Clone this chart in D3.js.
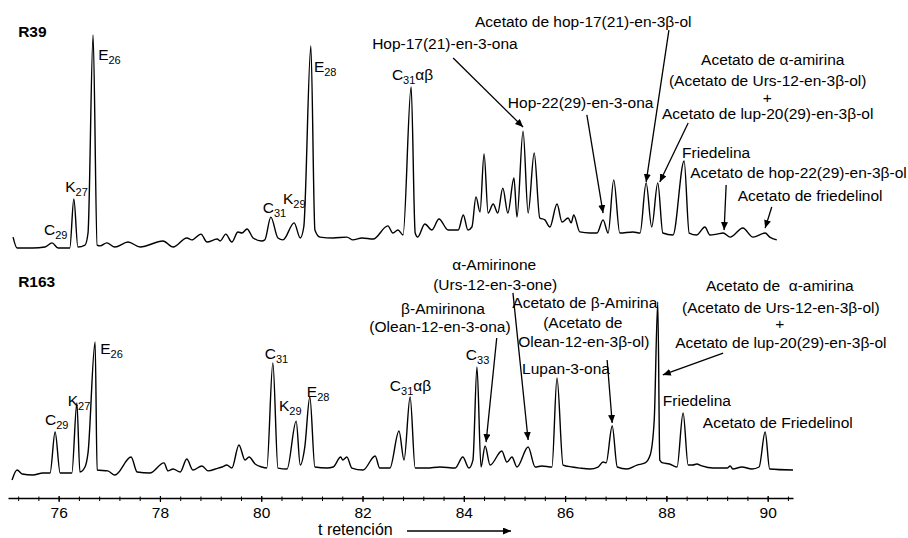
<!DOCTYPE html>
<html>
<head>
<meta charset="utf-8">
<script src="https://cdn.jsdelivr.net/npm/d3@7"></script>
<style>
  body { margin: 0; background: #fff; }
  svg text { font-family: "Liberation Sans", Arial, sans-serif; fill: #000; }
</style>
</head>
<body>
<svg id="chrom"></svg>
<script>
// retention time (min) and relative signal (% of largest peak)
var r39Time = [75.10,75.18,75.49,75.73,75.87,75.99,76.22,76.30,76.38,76.52,76.58,76.68,76.76,76.82,76.95,77.11,77.37,77.61,78.06,78.26,
  78.53,78.63,78.81,78.93,79.13,79.19,79.30,79.42,79.54,79.62,79.72,79.84,80.01,80.07,80.19,80.33,80.43,80.65,80.77,80.84,
  80.98,81.06,81.16,81.42,81.69,81.81,81.99,82.21,82.50,82.60,82.70,82.80,82.96,83.04,83.09,83.23,83.37,83.51,83.69,83.89,
  83.99,84.08,84.16,84.24,84.32,84.40,84.48,84.58,84.67,84.77,84.87,84.99,85.05,85.17,85.27,85.39,85.50,85.60,85.70,85.84,
  85.94,86.06,86.12,86.17,86.29,86.49,86.63,86.75,86.85,86.96,87.08,87.34,87.48,87.60,87.71,87.83,87.93,88.13,88.35,88.45,
  88.60,88.76,88.86,89.00,89.12,89.26,89.51,89.71,89.95,90.04,90.18];
var r39Signal = [6.0,0.9,0.9,1.4,3.3,0.9,0.9,23.7,1.4,2.3,7.9,100,2.3,1.9,3.3,1.4,3.7,1.4,4.2,1.4,
  5.6,4.7,7.4,3.7,5.1,4.2,7.4,3.7,8.4,7.9,9.8,5.6,4.2,4.7,15.3,5.6,4.7,12.6,5.6,10.7,
  94.9,9.3,6.0,5.6,6.0,4.7,5.6,5.1,11.2,7.9,9.3,7.0,75.8,7.9,6.0,12.1,9.3,14.4,9.3,9.3,
  16.3,9.3,10.7,24.7,17.7,44.7,17.2,21.4,17.2,28.8,17.2,33.5,15.3,55.3,17.2,45.1,14.9,14.0,10.7,21.4,
  13.0,14.9,12.6,16.3,8.4,7.9,7.9,14.0,7.9,32.6,7.9,8.4,7.9,31.2,10.7,31.2,7.9,7.0,41.4,7.9,
  7.0,10.7,7.0,7.4,7.9,6.0,10.2,6.0,7.9,6.0,4.7];

var r163Time = [75.08,75.18,75.28,75.49,75.69,75.83,75.93,76.03,76.26,76.36,76.42,76.52,76.58,76.72,76.76,76.97,77.11,77.43,77.55,77.80,
  78.08,78.16,78.26,78.40,78.53,78.65,78.83,78.95,79.15,79.23,79.32,79.42,79.56,79.68,79.76,79.88,80.01,80.11,80.23,80.33,
  80.51,80.69,80.77,80.86,80.96,81.06,81.30,81.42,81.57,81.61,81.69,81.79,82.01,82.25,82.34,82.54,82.72,82.82,82.94,83.04,
  83.27,83.53,83.83,83.98,84.10,84.18,84.26,84.34,84.42,84.52,84.75,84.85,84.95,85.05,85.27,85.41,85.54,85.74,85.84,85.96,
  86.14,86.29,86.49,86.65,86.75,86.81,86.93,87.03,87.22,87.42,87.58,87.68,87.76,87.83,87.87,87.93,88.06,88.21,88.33,88.43,
  88.52,88.60,88.70,88.92,89.20,89.26,89.31,89.49,89.69,89.83,89.95,90.04,90.50];
var r163Signal = [0,5.6,3.4,2.8,3.9,3.9,27.0,3.9,3.9,43.3,4.5,7.3,15.2,77.5,5.6,5.1,2.8,12.9,4.5,3.9,
  9.6,5.1,6.2,4.5,11.8,5.6,7.9,5.1,6.7,7.3,8.4,6.7,19.7,11.2,12.9,9.0,7.3,6.7,65.7,6.7,
  6.2,33.1,8.4,18.5,46.6,7.3,6.7,7.3,12.9,11.2,12.9,6.7,5.6,13.5,6.7,6.7,27.5,11.2,46.6,6.7,
  6.7,7.3,6.7,12.9,6.7,11.2,63.5,7.3,19.1,8.4,16.3,10.1,12.9,7.3,18.5,7.3,7.9,7.3,57.3,8.4,
  7.3,6.7,6.2,7.3,10.1,9.6,30.3,7.3,6.2,8.4,9.6,14.0,33.7,100,11.2,9.6,9.0,7.3,37.6,8.4,
  8.4,9.0,7.9,6.7,6.7,7.9,6.2,7.3,6.2,7.3,27.0,6.2,5.6];

var xTicks = [76, 78, 80, 82, 84, 86, 88, 90];
var xMinorTicks = d3.range(75.2, 90.5, 0.4);

// peak labels: anchor in (time, signal) units of each run
var r39Labels = [
  {main: "R39", t: 75.20, i: 99.1, bold: true},
  {main: "C", sub: "29", t: 75.71, i: 7.0},
  {main: "K", sub: "27", t: 76.13, i: 27.0},
  {main: "E", sub: "26", t: 76.78, i: 88.4},
  {main: "C", sub: "31", t: 80.03, i: 17.2},
  {main: "K", sub: "29", t: 80.43, i: 21.4},
  {main: "E", sub: "28", t: 81.04, i: 82.8},
  {main: "C", sub: "31", tail: "αβ", t: 82.58, i: 79.1},
  {main: "Hop-17(21)-en-3-ona", t: 82.19, i: 93.5},
  {main: "Acetato de hop-17(21)-en-3β-ol", t: 84.22, i: 103.7},
  {main: "Hop-22(29)-en-3-ona", t: 84.87, i: 66.0},
  {main: "Acetato de α-amirina", t: 90.10, i: 86.0, anchor: "middle"},
  {main: "(Acetato de Urs-12-en-3β-ol)", t: 90.00, i: 76.3, anchor: "middle"},
  {main: "+", t: 89.99, i: 68.4, anchor: "middle"},
  {main: "Acetato de lup-20(29)-en-3β-ol", t: 90.00, i: 60.9, anchor: "middle"},
  {main: "Friedelina", t: 88.31, i: 42.8},
  {main: "Acetato de hop-22(29)-en-3β-ol", t: 88.47, i: 33.5},
  {main: "Acetato de friedelinol", t: 89.41, i: 22.8}
];
var r39Arrows = [
  {from: [83.79, 89.3], to: [85.17, 57.2]},
  {from: [88.05, 102.3], to: [87.60, 31.6]},
  {from: [86.43, 62.8], to: [86.75, 17.2]},
  {from: [88.43, 59.1], to: [87.87, 31.6]},
  {from: [89.18, 30.2], to: [89.14, 9.3]},
  {from: [90.08, 20.0], to: [89.95, 10.2]}
];

var r163Labels = [
  {main: "R163", t: 75.20, i: 108.4, bold: true},
  {main: "C", sub: "29", t: 75.73, i: 30.9},
  {main: "K", sub: "27", t: 76.18, i: 41.6},
  {main: "E", sub: "26", t: 76.82, i: 70.8},
  {main: "C", sub: "31", t: 80.07, i: 68.0},
  {main: "K", sub: "29", t: 80.35, i: 38.8},
  {main: "E", sub: "28", t: 80.90, i: 46.6},
  {main: "C", sub: "31", tail: "αβ", t: 82.54, i: 50.0},
  {main: "α-Amirinone", t: 84.60, i: 118.0, anchor: "middle"},
  {main: "(Urs-12-en-3-one)", t: 84.62, i: 106.7, anchor: "middle"},
  {main: "β-Amirinona", t: 83.59, i: 93.3, anchor: "middle"},
  {main: "(Olean-12-en-3-ona)", t: 83.53, i: 83.1, anchor: "middle"},
  {main: "C", sub: "33", t: 84.04, i: 67.4},
  {main: "Acetato de β-Amirina", t: 86.39, i: 96.6, anchor: "middle"},
  {main: "(Acetato de", t: 86.35, i: 85.4, anchor: "middle"},
  {main: "Olean-12-en-3β-ol)", t: 86.37, i: 74.7, anchor: "middle"},
  {main: "Lupan-3-ona", t: 85.15, i: 59.6},
  {main: "Acetato de\u00a0 α-amirina", t: 90.24, i: 106.2, anchor: "middle"},
  {main: "(Acetato de Urs-12-en-3β-ol)", t: 90.26, i: 93.8, anchor: "middle"},
  {main: "+", t: 90.24, i: 84.6, anchor: "middle"},
  {main: "Acetato de lup-20(29)-en-3β-ol", t: 90.26, i: 74.2, anchor: "middle"},
  {main: "Friedelina", t: 87.93, i: 41.6},
  {main: "Acetato de Friedelinol", t: 88.72, i: 29.2}
];
var r163Arrows = [
  {from: [84.97, 105.1], to: [85.27, 22.5]},
  {from: [84.65, 79.8], to: [84.44, 21.3]},
  {from: [86.83, 67.4], to: [86.93, 32.0]},
  {from: [89.12, 71.3], to: [87.93, 59.0]}
];

var dim = {width: 908, height: 538};
var axisY = 498;

var svg = d3.select("#chrom")
    .attr("width", dim.width)
    .attr("height", dim.height);

svg.append("defs").append("marker")
    .attr("id", "head")
    .attr("markerUnits", "userSpaceOnUse")
    .attr("markerWidth", 9).attr("markerHeight", 8)
    .attr("refX", 8).attr("refY", 3.5)
    .attr("orient", "auto")
  .append("path")
    .attr("d", "M0,0L8,3.5L0,7Z")
    .attr("fill", "#000");

var xScale = d3.scaleLinear().domain([75, 90.5]).range([8, 793]);
var yTop = d3.scaleLinear().domain([0, 100]).range([250, 35]);
var yBottom = d3.scaleLinear().domain([0, 100]).range([480, 302]);

function drawRun(times, signal, yScale, labels, arrows) {
    var g = svg.append("g");
    var pts = times.map((t, k) => [t, signal[k]]);

    var line = d3.line()
        .x(d => xScale(d[0]))
        .y(d => yScale(d[1]))
        .curve(d3.curveMonotoneX);

    g.append("path")
        .datum(pts)
        .attr("d", line)
        .attr("fill", "none")
        .attr("stroke", "#000")
        .attr("stroke-width", 1.4)
        .attr("stroke-linejoin", "round");

    labels.forEach(function(d) {
        var txt = g.append("text")
            .attr("x", xScale(d.t))
            .attr("y", yScale(d.i))
            .attr("text-anchor", d.anchor || "start")
            .style("font-size", "15.5px")
            .style("font-weight", d.bold ? "bold" : "normal");
        txt.append("tspan").text(d.main);
        if (d.sub) {
            txt.append("tspan").attr("dy", 4).style("font-size", "11px").text(d.sub);
            if (d.tail) txt.append("tspan").attr("dy", -4).text(d.tail);
        }
    });

    arrows.forEach(function(d) {
        g.append("line")
            .attr("x1", xScale(d.from[0])).attr("y1", yScale(d.from[1]))
            .attr("x2", xScale(d.to[0])).attr("y2", yScale(d.to[1]))
            .attr("stroke", "#000")
            .attr("stroke-width", 1.3)
            .attr("marker-end", "url(#head)");
    });
}

drawRun(r39Time, r39Signal, yTop, r39Labels, r39Arrows);
drawRun(r163Time, r163Signal, yBottom, r163Labels, r163Arrows);

// x axis
var minorAxis = d3.axisBottom(xScale)
    .tickValues(xMinorTicks)
    .tickSize(3)
    .tickSizeOuter(0)
    .tickFormat("");
var majorAxis = d3.axisBottom(xScale)
    .tickValues(xTicks)
    .tickSize(4)
    .tickSizeOuter(0)
    .tickPadding(5)
    .tickFormat(d3.format("d"));

var gMinor = svg.append("g").attr("transform", "translate(0," + axisY + ")").call(minorAxis);
var gMajor = svg.append("g").attr("transform", "translate(0," + axisY + ")").call(majorAxis);
gMinor.select(".domain").attr("stroke-width", 1.6);
gMajor.select(".domain").remove();
gMinor.selectAll(".tick line").attr("y1", -1.5).attr("stroke-width", 1);
gMajor.selectAll(".tick line").attr("y1", -2).attr("stroke-width", 1.2);
gMajor.selectAll(".tick text")
    .style("font-size", "15.5px")
    .style("font-family", "'Liberation Sans', Arial, sans-serif");

svg.append("text")
    .attr("x", 318).attr("y", 535)
    .style("font-size", "16px")
    .text("t retención");
svg.append("line")
    .attr("x1", 407).attr("y1", 531)
    .attr("x2", 511).attr("y2", 531)
    .attr("stroke", "#000")
    .attr("stroke-width", 1.3)
    .attr("marker-end", "url(#head)");
</script>
</body>
</html>
